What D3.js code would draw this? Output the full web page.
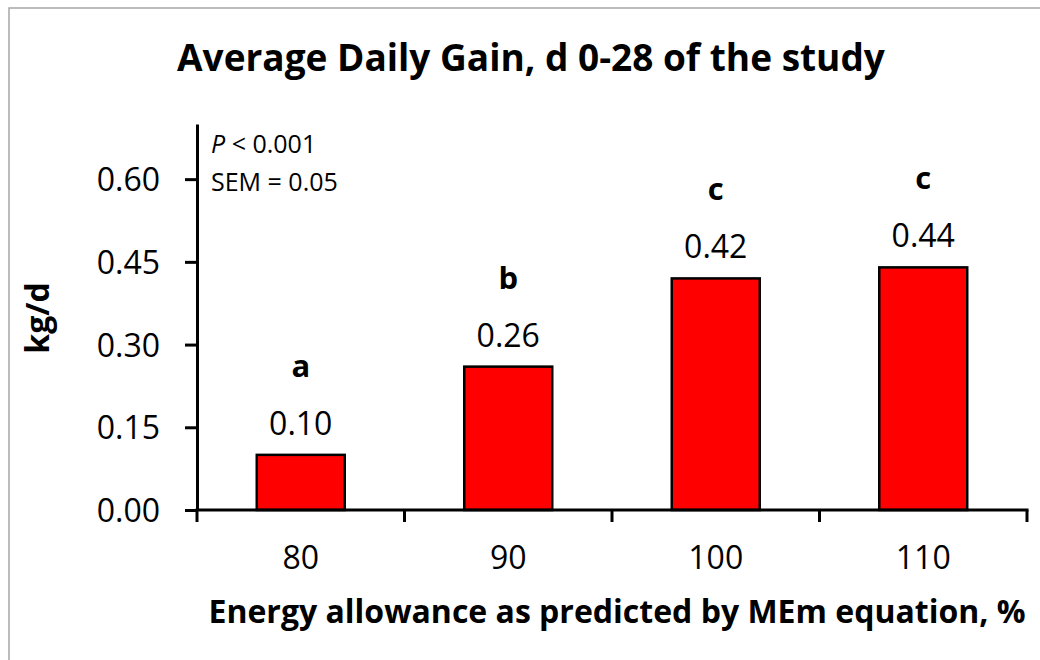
<!DOCTYPE html>
<html>
<head>
<meta charset="utf-8">
<script src="https://cdn.jsdelivr.net/npm/d3@7"></script>
<style>
  body { margin: 0; background: #fff; }
  text { font-family: "Open Sans", Lato, sans-serif; fill: #000; }
</style>
</head>
<body>
<div class="chart"></div>
<script>
// chart data
var categories = ["80", "90", "100", "110"];
var adgValues = [0.10, 0.26, 0.42, 0.44];
var sigLetters = ["a", "b", "c", "c"];
var yTicks = [0, 0.15, 0.30, 0.45, 0.60];

var svgWidth = 1040;
var svgHeight = 660;

var margin = { top: 124, right: 13, bottom: 150, left: 197 };
var width = svgWidth - margin.left - margin.right;
var height = svgHeight - margin.top - margin.bottom;

var svg = d3.select(".chart")
  .append("svg")
  .attr("width", svgWidth)
  .attr("height", svgHeight);

// outer chart border
svg.append("rect")
  .attr("x", 9)
  .attr("y", 8)
  .attr("width", svgWidth)
  .attr("height", svgHeight)
  .attr("fill", "none")
  .attr("stroke", "#a6a6a6")
  .attr("stroke-width", 1.5);

var chartGroup = svg.append("g")
  .attr("transform", `translate(${margin.left}, ${margin.top})`);

var x = d3.scaleBand()
  .domain(categories)
  .range([0, width])
  .paddingInner(0.576)
  .paddingOuter(0.288);

var y = d3.scaleLinear().domain([0, 0.7]).range([height, 0]);

// bars
chartGroup.selectAll(".bar")
  .data(adgValues)
  .join("rect")
  .attr("class", "bar")
  .attr("x", (d, i) => x(categories[i]))
  .attr("y", d => y(d))
  .attr("width", x.bandwidth())
  .attr("height", d => height - y(d))
  .attr("fill", "#ff0000")
  .attr("stroke", "#000")
  .attr("stroke-width", 2.5);

// value labels
chartGroup.selectAll(".val")
  .data(adgValues)
  .join("text")
  .attr("class", "val")
  .attr("x", (d, i) => x(categories[i]) + x.bandwidth() / 2)
  .attr("y", d => y(d) - 20)
  .attr("text-anchor", "middle")
  .style("font-size", "32px")
  .text(d => d3.format(".2f")(d));

// significance letters
chartGroup.selectAll(".sig")
  .data(adgValues)
  .join("text")
  .attr("class", "sig")
  .attr("x", (d, i) => x(categories[i]) + x.bandwidth() / 2)
  .attr("y", d => y(d) - 78)
  .attr("text-anchor", "middle")
  .style("font-size", "31px")
  .style("font-weight", "bold")
  .text((d, i) => sigLetters[i]);

// y axis
var yAxis = chartGroup.append("g")
  .call(d3.axisLeft(y).tickValues(yTicks).tickFormat(d3.format(".2f")).tickSize(12).tickSizeOuter(0).tickPadding(25));
yAxis.select(".domain").attr("stroke-width", 3);
yAxis.selectAll(".tick line").attr("stroke-width", 3);
yAxis.selectAll(".tick text").style("font-size", "32px").attr("fill", "#000").attr("dy", "0.36em");

// x axis, ticks at category boundaries
var xBounds = d3.range(categories.length + 1).map(i => i * x.step());
var xAxis = chartGroup.append("g")
  .attr("transform", `translate(0, ${height})`);
xAxis.append("line")
  .attr("x1", -1.5)
  .attr("x2", width + 1.5)
  .attr("stroke", "#000")
  .attr("stroke-width", 3);
xAxis.selectAll(".xtick")
  .data(xBounds)
  .join("line")
  .attr("class", "xtick")
  .attr("x1", d => d)
  .attr("x2", d => d)
  .attr("y1", 0)
  .attr("y2", 12)
  .attr("stroke", "#000")
  .attr("stroke-width", 3);
xAxis.selectAll(".xlab")
  .data(categories)
  .join("text")
  .attr("class", "xlab")
  .attr("x", d => x(d) + x.bandwidth() / 2)
  .attr("y", 59)
  .attr("text-anchor", "middle")
  .style("font-size", "32px")
  .text(d => d);

// stats note
var note = chartGroup.append("text")
  .attr("x", 14)
  .style("font-size", "25px");
note.append("tspan")
  .attr("x", 14)
  .attr("y", 29)
  .style("font-style", "italic")
  .text("P");
note.append("tspan")
  .text(" < 0.001");
note.append("tspan")
  .attr("x", 14)
  .attr("y", 67)
  .text("SEM = 0.05");

// title
svg.append("text")
  .attr("x", 531)
  .attr("y", 71)
  .attr("text-anchor", "middle")
  .style("font-size", "37px")
  .style("font-weight", "bold")
  .text("Average Daily Gain, d 0-28 of the study");

// x axis label
svg.append("text")
  .attr("x", 617)
  .attr("y", 623)
  .attr("text-anchor", "middle")
  .style("font-size", "32px")
  .style("font-weight", "bold")
  .text("Energy allowance as predicted by MEm equation, %");

// y axis label
svg.append("text")
  .attr("transform", "rotate(-90)")
  .attr("x", -318)
  .attr("y", 49)
  .attr("text-anchor", "middle")
  .style("font-size", "32px")
  .style("font-weight", "bold")
  .text("kg/d");
</script>
</body>
</html>
